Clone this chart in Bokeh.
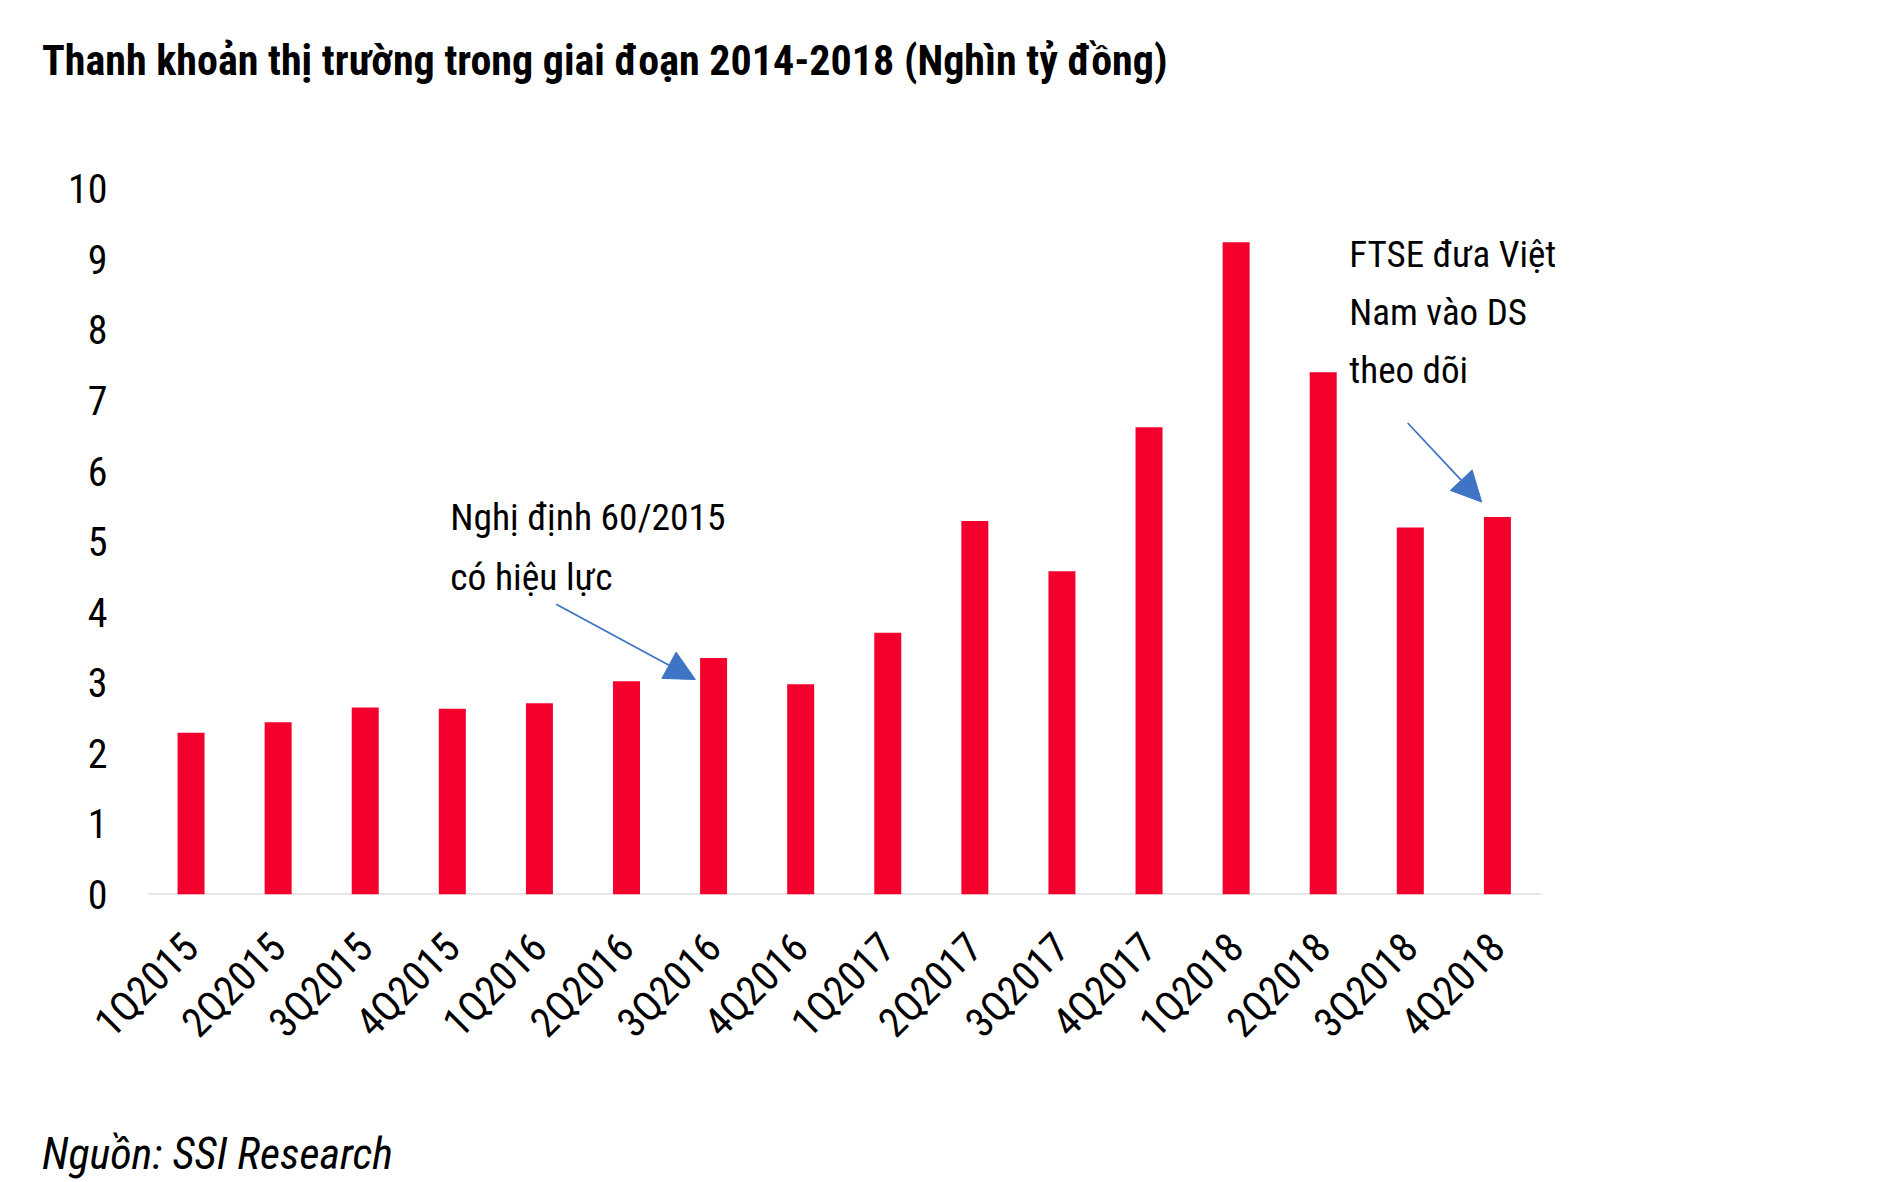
import math
from bokeh.plotting import figure
from bokeh.layouts import column
from bokeh.models import Range1d, FixedTicker, Label, Arrow, NormalHead, ColumnDataSource, Div
from bokeh.embed import file_html
from bokeh.resources import INLINE

# ---- data ----
quarters = ["1Q2015", "2Q2015", "3Q2015", "4Q2015",
            "1Q2016", "2Q2016", "3Q2016", "4Q2016",
            "1Q2017", "2Q2017", "3Q2017", "4Q2017",
            "1Q2018", "2Q2018", "3Q2018", "4Q2018"]
liquidity = [2.29, 2.44, 2.65, 2.63, 2.71, 3.02, 3.35, 2.98,
             3.71, 5.29, 4.58, 6.62, 9.24, 7.40, 5.20, 5.35]
y_ticks = [0, 1, 2, 3, 4, 5, 6, 7, 8, 9, 10]

title_text = "Thanh khoản thị trường trong giai đoạn 2014-2018 (Nghìn tỷ đồng)"
source_text = "Nguồn: SSI Research"
note1_lines = ["Nghị định 60/2015", "có hiệu lực"]
note2_lines = ["FTSE đưa Việt", "Nam vào DS", "theo dõi"]

FONT = "Roboto Condensed, Liberation Sans Narrow, Roboto, sans-serif"
RED = "#F4002D"
BLUE = "#3F74C4"
GRAY = "#D9D9D9"

W = 1900
xs = [i + 0.5 for i in range(len(quarters))]
n = len(quarters)

title_div = Div(
    text=('<div style="padding:40px 0 0 42px; font-family:%s; font-weight:bold; '
          'font-size:42px; line-height:1; white-space:nowrap; color:#000">%s</div>')
    % (FONT, title_text),
    width=W, height=100, margin=(0, 0, 0, 0))

p = figure(width=W, height=1000,
           x_range=Range1d(0, 1553 / 87.09), y_range=Range1d(0, 10.3),
           output_backend="svg", toolbar_location=None,
           min_border_left=147, min_border_right=200,
           min_border_top=67, min_border_bottom=206)
p.title.text = ""
p.outline_line_color = None
p.grid.visible = False
p.background_fill_color = "white"
p.border_fill_color = "white"

# baseline under the bars (the category span)
p.segment(x0=[0], y0=[0], x1=[n], y1=[0], line_color=GRAY, line_width=2.5)

src = ColumnDataSource(dict(x=xs, top=liquidity, q=quarters))
p.vbar(x="x", top="top", bottom=0, width=0.31, source=src,
       fill_color=RED, line_color=None)

# x axis
xa = p.xaxis[0]
xa.ticker = FixedTicker(ticks=xs)
xa.major_label_overrides = {x: q for x, q in zip(xs, quarters)}
xa.axis_line_color = None
xa.major_tick_line_color = None
xa.minor_tick_line_color = None
xa.major_label_orientation = math.pi / 4
xa.major_label_text_font = FONT
xa.major_label_text_font_size = "41px"
xa.major_label_text_color = "black"
xa.major_label_standoff = 40

# y axis
ya = p.yaxis[0]
ya.ticker = FixedTicker(ticks=y_ticks)
ya.axis_line_color = None
ya.major_tick_line_color = None
ya.minor_tick_line_color = None
ya.major_label_text_font = FONT
ya.major_label_text_font_size = "40px"
ya.major_label_text_color = "black"
ya.major_label_standoff = 34

# annotations
for line, yv in zip(note1_lines, [5.345, 4.505]):
    p.add_layout(Label(x=3.476, y=yv, text=line, text_font=FONT,
                       text_font_size="37.5px", text_color="black",
                       text_baseline="alphabetic"))
for line, yv in zip(note2_lines, [9.074, 8.247, 7.421]):
    p.add_layout(Label(x=13.80, y=yv, text=line, text_font=FONT,
                       text_font_size="37px", text_color="black",
                       text_baseline="alphabetic"))

for (x0, y0, x1, y1) in [(4.693, 4.113, 6.291, 3.046), (14.47, 6.68, 15.32, 5.56)]:
    p.add_layout(Arrow(x_start=x0, y_start=y0, x_end=x1, y_end=y1,
                       line_color=BLUE, line_width=1.8,
                       end=NormalHead(size=30, fill_color=BLUE, line_color=BLUE)))

source_div = Div(
    text=('<div style="padding:32px 0 0 42px; font-family:%s; font-style:italic; '
          'font-size:44px; line-height:1; white-space:nowrap; color:#000">%s</div>')
    % (FONT, source_text),
    width=W, height=80, margin=(0, 0, 0, 0))

layout = column(title_div, p, source_div, spacing=0)
open("out.html", "w").write(file_html(layout, INLINE))
